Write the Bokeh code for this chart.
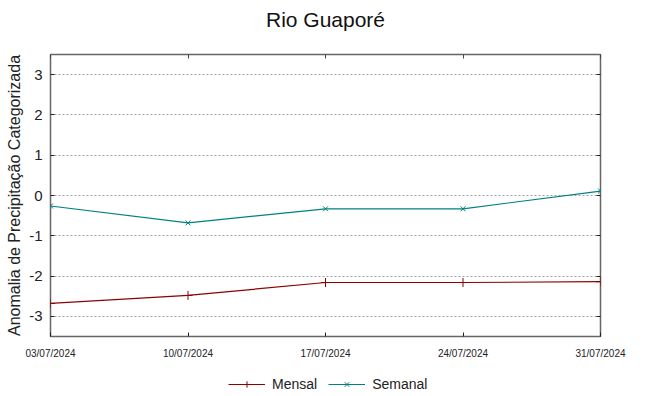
from bokeh.plotting import figure
from bokeh.layouts import column
from bokeh.models import (Range1d, FixedTicker, LinearAxis, Legend, LegendItem,
                          ColumnDataSource, Label)
from bokeh.embed import file_html
from bokeh.resources import INLINE

title = "Rio Guaporé"
ylabel = "Anomalia de Precipitação Categorizada"
dates = ["03/07/2024", "10/07/2024", "17/07/2024", "24/07/2024", "31/07/2024"]
mensal = [-2.68, -2.48, -2.16, -2.16, -2.14]
semanal = [-0.26, -0.68, -0.33, -0.33, 0.11]
yticks = [-3, -2, -1, 0, 1, 2, 3]
ytick_labels = ["-3", "-2", "-1", "0", "1", "2", "3"]
series_names = ["Mensal", "Semanal"]

RED = "#8b0000"
CYAN = "#008080"
FONT = "Liberation Sans"
TXT = "#222222"
W = 649

# ---------- header (title) ----------
head = figure(width=W, height=36, output_backend="svg", toolbar_location=None,
              x_range=Range1d(0, W), y_range=Range1d(0, 36),
              x_axis_location=None, y_axis_location=None,
              min_border_left=0, min_border_right=0, min_border_top=0, min_border_bottom=0)
head.grid.visible = False
head.outline_line_color = None
head.add_layout(Label(x=W / 2, y=17, text=title, text_font=FONT, text_font_size="21px",
                      text_align="center", text_baseline="middle", text_color="#111111"))

# ---------- main plot ----------
xs = list(range(len(dates)))
src = ColumnDataSource(dict(x=xs, mensal=mensal, semanal=semanal))

p = figure(width=W, height=328, output_backend="svg", toolbar_location=None,
           x_range=Range1d(0, len(dates) - 1), y_range=Range1d(-3.5, 3.5),
           min_border_left=50, min_border_right=49, min_border_top=18, min_border_bottom=28)
p.background_fill_color = "white"
p.border_fill_color = "white"
p.outline_line_color = "#666666"
p.outline_line_width = 1.5

for ax in p.xaxis:
    ax.ticker = FixedTicker(ticks=xs)
    ax.major_label_overrides = {i: d for i, d in enumerate(dates)}
    ax.major_label_text_font = FONT
    ax.major_label_text_font_size = "10px"
    ax.major_label_standoff = 11
for ax in p.yaxis:
    ax.ticker = FixedTicker(ticks=yticks)
    ax.major_label_overrides = {t: s for t, s in zip(yticks, ytick_labels)}
    ax.major_label_text_font = FONT
    ax.major_label_text_font_size = "15px"
    ax.major_label_standoff = 8
    ax.axis_label = ylabel
    ax.axis_label_text_font = FONT
    ax.axis_label_text_font_size = "16px"
    ax.axis_label_text_font_style = "normal"
    ax.axis_label_text_color = TXT
    ax.axis_label_standoff = 3
for ax in list(p.xaxis) + list(p.yaxis):
    ax.axis_line_color = None
    ax.major_tick_in = 4
    ax.major_tick_out = 0
    ax.minor_tick_line_color = None
    ax.major_tick_line_color = "#222222"
    ax.major_label_text_color = TXT

top = LinearAxis(ticker=FixedTicker(ticks=xs), major_label_text_color=None,
                 major_label_text_font_size="8px", major_label_standoff=0,
                 axis_line_color=None, major_tick_in=4, major_tick_out=0,
                 minor_tick_line_color=None, major_tick_line_color="#444444")
right = LinearAxis(ticker=FixedTicker(ticks=yticks), major_label_text_color=None,
                   major_label_text_font_size="8px", major_label_standoff=0,
                   axis_line_color=None, major_tick_in=4, major_tick_out=0,
                   minor_tick_line_color=None, major_tick_line_color="#222222")
p.add_layout(top, "above")
p.add_layout(right, "right")

p.xgrid.grid_line_color = None
p.ygrid.ticker = FixedTicker(ticks=yticks)
p.ygrid.grid_line_color = "#a0a0a0"
p.ygrid.grid_line_dash = "2 2"
p.ygrid.grid_line_width = 1

def draw_series(fig):
    r = []
    r.append(fig.line("x", "mensal", source=src, line_color=RED, line_width=1.2))
    r.append(fig.scatter("x", "mensal", source=src, marker="cross", size=9,
                         line_color=RED, line_width=1))
    r.append(fig.line("x", "semanal", source=src, line_color=CYAN, line_width=1.2))
    r.append(fig.scatter("x", "semanal", source=src, marker="x", size=7,
                         line_color=CYAN, line_width=1))
    return r

draw_series(p)

# ---------- legend row (same series, ranges chosen so only the legend shows) ----------
leg = figure(width=W, height=32, output_backend="svg", toolbar_location=None,
             x_range=Range1d(0, len(dates) - 1), y_range=Range1d(10, 11),
             x_axis_location=None, y_axis_location=None,
             min_border_left=0, min_border_right=0, min_border_top=0, min_border_bottom=0)
leg.grid.visible = False
leg.outline_line_color = None
rl = draw_series(leg)
legend = Legend(items=[LegendItem(label=series_names[0], renderers=[rl[0], rl[1]]),
                       LegendItem(label=series_names[1], renderers=[rl[2], rl[3]])],
                orientation="horizontal", location=(178, 4),
                glyph_width=37, glyph_height=16, label_height=16,
                label_standoff=7, spacing=11, padding=0, margin=0,
                label_text_font=FONT, label_text_font_size="14px", label_text_color=TXT,
                border_line_color=None, background_fill_alpha=0)
leg.add_layout(legend, "center")

layout = column(head, p, leg, spacing=0)
open("out.html", "w").write(file_html(layout, INLINE))
